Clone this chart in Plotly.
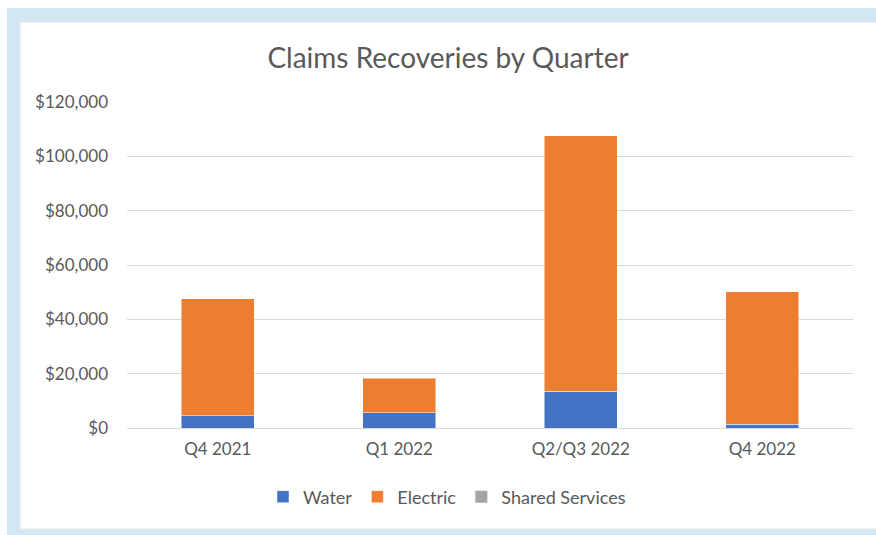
import plotly.graph_objects as go

quarters = ["Q4 2021", "Q1 2022", "Q2/Q3 2022", "Q4 2022"]
water = [4500, 5600, 13600, 1400]
electric = [43000, 12700, 93900, 48700]
shared_services = [0, 0, 0, 0]

W, H = 876, 535
# plot area in reference pixels: x 127..853, y 102..428
L, T = 127, 102
R = W - 853
B = H - 428
pw, ph = W - L - R, H - T - B


def px_x(px):
    return (px - L) / pw


def px_y(py):
    return (H - B - py) / ph


FONT = "Lato, 'Open Sans', sans-serif"
GREY = "#595959"

fig = go.Figure()
fig.add_bar(name="Water", x=quarters, y=water, marker=dict(color="#4472C4", line=dict(color="rgba(255,255,255,0.6)", width=0.8)))
fig.add_bar(name="Electric", x=quarters, y=electric, marker=dict(color="#ED7D31", line=dict(color="rgba(255,255,255,0.6)", width=0.8)))
fig.add_bar(name="Shared Services", x=quarters, y=shared_services, marker=dict(color="#A5A5A5", line=dict(width=0)))

shapes = [
    dict(type="rect", xref="paper", yref="paper", x0=px_x(7), x1=px_x(890), y0=px_y(8), y1=px_y(550),
         fillcolor="#d2e7f3", line=dict(width=0), layer="below"),
    dict(type="rect", xref="paper", yref="paper", x0=px_x(20), x1=px_x(890), y0=px_y(22), y1=px_y(529),
         fillcolor="white", line=dict(color="#e6e6e6", width=1), layer="below"),
]

fig.update_layout(
    width=W, height=H,
    margin=dict(l=L, r=R, t=T, b=B),
    barmode="stack",
    bargap=0.6,
    paper_bgcolor="white",
    plot_bgcolor="rgba(0,0,0,0)",
    font=dict(family=FONT, color=GREY, size=17),
    title=dict(text="Claims Recoveries by Quarter", x=448 / W, xanchor="center", xref="container",
               y=1 - 58 / H, yanchor="middle", font=dict(size=28, color=GREY, family=FONT)),
    legend=dict(orientation="h", x=px_x(447), xanchor="center", y=px_y(497), yanchor="middle",
                font=dict(size=18, color=GREY), traceorder="normal", itemwidth=30,
                bgcolor="rgba(0,0,0,0)"),
    shapes=shapes,
    xaxis=dict(showgrid=False, showline=False, zeroline=False, ticks="", ticklabelstandoff=9,
               tickfont=dict(size=17, color=GREY)),
    yaxis=dict(range=[0, 120000], dtick=20000, tickprefix="$", tickformat=",", showgrid=True,
               gridcolor="#d9d9d9", gridwidth=1, zeroline=True, zerolinecolor="#d9d9d9", zerolinewidth=1,
               showline=False, ticks="", ticklabelstandoff=18, tickfont=dict(size=17, color=GREY)),
)

fig.write_html(
    "out.html",
    config={"displayModeBar": False},
    post_script="document.body.style.margin='0';document.body.style.overflow='hidden';",
)
